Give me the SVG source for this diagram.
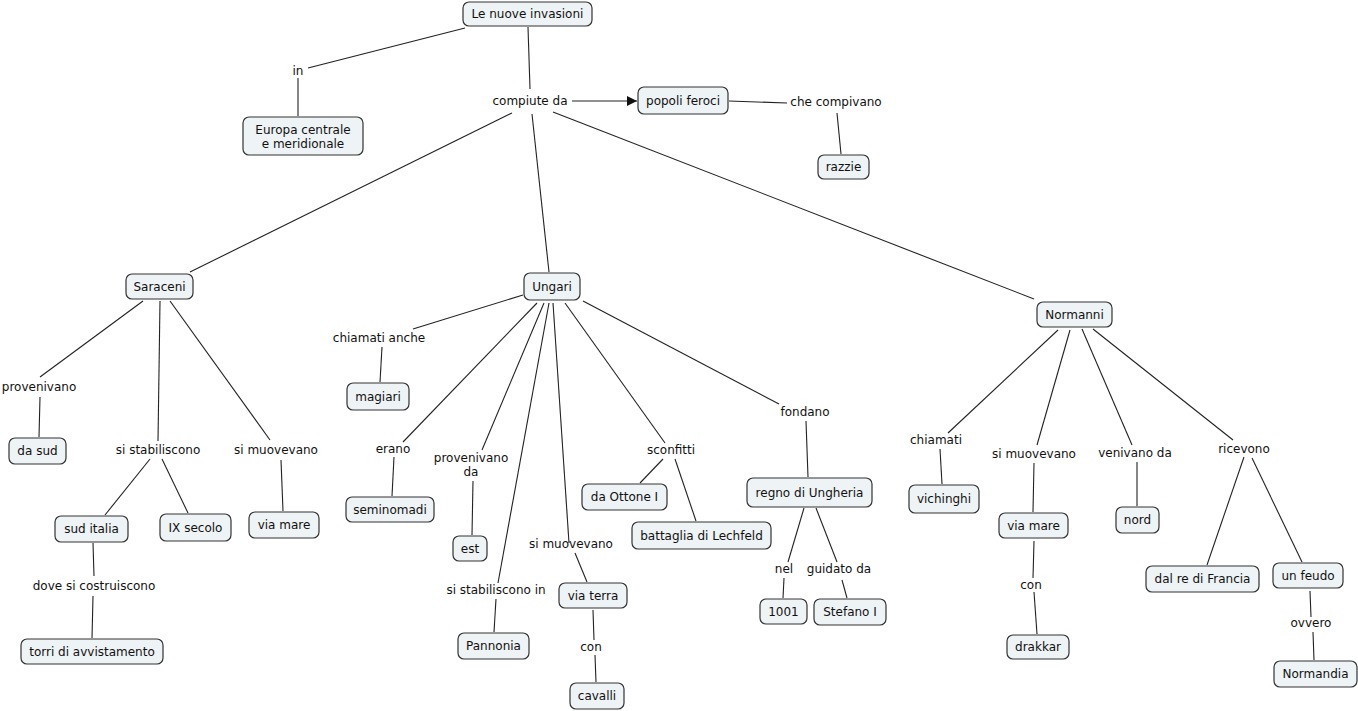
<svg xmlns="http://www.w3.org/2000/svg" width="1358" height="711" viewBox="0 0 1358 711">
<defs>
<style>
.n rect{fill:#eef3f5;stroke:#333;stroke-width:1.2}
text{font-family:"DejaVu Sans","Verdana",sans-serif;font-size:12px;fill:#111;text-anchor:middle}
.c line{stroke:#222;stroke-width:1.1}
</style>
<marker id="ar" viewBox="0 0 10 10" refX="10" refY="5" markerWidth="10" markerHeight="10" markerUnits="userSpaceOnUse" orient="auto"><path d="M0,0L10,5L0,10z" fill="#111"/></marker>
</defs>
<rect width="1358" height="711" fill="#fff"/>
<g class="c" id="connectors">
<line x1="465" y1="28" x2="308" y2="68"/>
<line x1="298" y1="78" x2="298" y2="116"/>
<line x1="528" y1="27" x2="530" y2="89"/>
<line x1="572" y1="101" x2="637" y2="101" marker-end="url(#ar)"/>
<line x1="729" y1="101" x2="787" y2="103"/>
<line x1="837" y1="113" x2="841" y2="154"/>
<line x1="512" y1="113" x2="190" y2="272"/>
<line x1="532" y1="114" x2="549" y2="272"/>
<line x1="553" y1="112" x2="1034" y2="299"/>
<line x1="143" y1="301" x2="40" y2="377"/>
<line x1="40" y1="397" x2="39" y2="437"/>
<line x1="160" y1="301" x2="158" y2="441"/>
<line x1="170" y1="301" x2="270" y2="440"/>
<line x1="281" y1="460" x2="283" y2="511"/>
<line x1="150" y1="459" x2="105" y2="515"/>
<line x1="162" y1="459" x2="188" y2="513"/>
<line x1="93" y1="543" x2="94" y2="576"/>
<line x1="93" y1="596" x2="92" y2="638"/>
<line x1="523" y1="295" x2="413" y2="329"/>
<line x1="382" y1="347" x2="380" y2="382"/>
<line x1="537" y1="303" x2="403" y2="442"/>
<line x1="394" y1="457" x2="392" y2="496"/>
<line x1="544" y1="303" x2="482" y2="450"/>
<line x1="473" y1="481" x2="472" y2="535"/>
<line x1="549" y1="303" x2="498" y2="583"/>
<line x1="496" y1="599" x2="494" y2="632"/>
<line x1="553" y1="303" x2="569" y2="543"/>
<line x1="575" y1="553" x2="587" y2="582"/>
<line x1="593" y1="610" x2="594" y2="640"/>
<line x1="595" y1="655" x2="596" y2="682"/>
<line x1="565" y1="303" x2="665" y2="443"/>
<line x1="663" y1="459" x2="640" y2="483"/>
<line x1="675" y1="459" x2="696" y2="521"/>
<line x1="583" y1="301" x2="779" y2="404"/>
<line x1="806" y1="421" x2="808" y2="477"/>
<line x1="804" y1="508" x2="788" y2="562"/>
<line x1="784" y1="578" x2="783" y2="598"/>
<line x1="816" y1="508" x2="837" y2="562"/>
<line x1="842" y1="580" x2="847" y2="598"/>
<line x1="1058" y1="330" x2="948" y2="433"/>
<line x1="940" y1="449" x2="942" y2="484"/>
<line x1="1070" y1="330" x2="1037" y2="445"/>
<line x1="1034" y1="463" x2="1033" y2="512"/>
<line x1="1034" y1="541" x2="1033" y2="578"/>
<line x1="1034" y1="592" x2="1037" y2="634"/>
<line x1="1082" y1="329" x2="1132" y2="445"/>
<line x1="1137" y1="462" x2="1137" y2="506"/>
<line x1="1093" y1="329" x2="1233" y2="440"/>
<line x1="1244" y1="457" x2="1207" y2="565"/>
<line x1="1252" y1="458" x2="1302" y2="562"/>
<line x1="1310" y1="591" x2="1311" y2="617"/>
<line x1="1313" y1="632" x2="1314" y2="660"/>
</g>
<g id="labels">
<text x="298" y="75">in</text>
<text x="530" y="105">compiute da</text>
<text x="836" y="106">che compivano</text>
<text x="39" y="391">provenivano</text>
<text x="158" y="454">si stabiliscono</text>
<text x="276" y="454">si muovevano</text>
<text x="94" y="590">dove si costruiscono</text>
<text x="379" y="342">chiamati anche</text>
<text x="393" y="453">erano</text>
<text x="471" y="462">provenivano</text>
<text x="471" y="476">da</text>
<text x="496" y="594">si stabiliscono in</text>
<text x="571" y="548">si muovevano</text>
<text x="591" y="651">con</text>
<text x="671" y="454">sconfitti</text>
<text x="805" y="416">fondano</text>
<text x="784" y="573">nel</text>
<text x="839" y="573">guidato da</text>
<text x="936" y="444">chiamati</text>
<text x="1034" y="458">si muovevano</text>
<text x="1135" y="457">venivano da</text>
<text x="1244" y="453">ricevono</text>
<text x="1031" y="589">con</text>
<text x="1311" y="627">ovvero</text>
</g>
<g class="n" id="n1"><rect x="463" y="2" width="129" height="24" rx="6"/><text x="527.5" y="18">Le nuove invasioni</text></g>
<g class="n" id="n2"><rect x="243" y="117" width="120" height="38" rx="6"/><text x="303" y="134">Europa centrale</text><text x="303" y="148">e meridionale</text></g>
<g class="n" id="n3"><rect x="638" y="87" width="90" height="27" rx="6"/><text x="683" y="104.5">popoli feroci</text></g>
<g class="n" id="n4"><rect x="818" y="155" width="51" height="24" rx="6"/><text x="843.5" y="171">razzie</text></g>
<g class="n" id="n5"><rect x="126" y="274" width="67" height="25" rx="6"/><text x="159.5" y="290.5">Saraceni</text></g>
<g class="n" id="n6"><rect x="524" y="273" width="56" height="27" rx="6"/><text x="552" y="290.5">Ungari</text></g>
<g class="n" id="n7"><rect x="1037" y="302" width="75" height="25" rx="6"/><text x="1074.5" y="318.5">Normanni</text></g>
<g class="n" id="n8"><rect x="9" y="438" width="57" height="26" rx="6"/><text x="37.5" y="455">da sud</text></g>
<g class="n" id="n9"><rect x="55" y="516" width="73" height="26" rx="6"/><text x="91.5" y="533">sud italia</text></g>
<g class="n" id="n10"><rect x="160" y="514" width="71" height="27" rx="6"/><text x="195.5" y="531.5">IX secolo</text></g>
<g class="n" id="n11"><rect x="249" y="512" width="70" height="26" rx="6"/><text x="284" y="529">via mare</text></g>
<g class="n" id="n12"><rect x="21" y="639" width="142" height="25" rx="6"/><text x="92" y="655.5">torri di avvistamento</text></g>
<g class="n" id="n13"><rect x="347" y="383" width="62" height="27" rx="6"/><text x="378" y="400.5">magiari</text></g>
<g class="n" id="n14"><rect x="346" y="497" width="88" height="25" rx="6"/><text x="390" y="513.5">seminomadi</text></g>
<g class="n" id="n15"><rect x="453" y="536" width="34" height="25" rx="6"/><text x="470" y="552.5">est</text></g>
<g class="n" id="n16"><rect x="458" y="633" width="71" height="26" rx="6"/><text x="493.5" y="650">Pannonia</text></g>
<g class="n" id="n17"><rect x="559" y="583" width="68" height="25" rx="6"/><text x="593" y="599.5">via terra</text></g>
<g class="n" id="n18"><rect x="570" y="683" width="54" height="26" rx="6"/><text x="597" y="700">cavalli</text></g>
<g class="n" id="n19"><rect x="582" y="484" width="85" height="26" rx="6"/><text x="624.5" y="501">da Ottone I</text></g>
<g class="n" id="n20"><rect x="632" y="522" width="139" height="27" rx="6"/><text x="701.5" y="539.5">battaglia di Lechfeld</text></g>
<g class="n" id="n21"><rect x="747" y="478" width="125" height="29" rx="6"/><text x="809.5" y="496.5">regno di Ungheria</text></g>
<g class="n" id="n22"><rect x="760" y="599" width="47" height="25" rx="6"/><text x="783.5" y="615.5">1001</text></g>
<g class="n" id="n23"><rect x="814" y="599" width="72" height="26" rx="6"/><text x="850" y="616">Stefano I</text></g>
<g class="n" id="n24"><rect x="909" y="485" width="70" height="28" rx="6"/><text x="944" y="503">vichinghi</text></g>
<g class="n" id="n25"><rect x="999" y="513" width="69" height="25" rx="6"/><text x="1033.5" y="529.5">via mare</text></g>
<g class="n" id="n26"><rect x="1007" y="635" width="62" height="24" rx="6"/><text x="1038" y="651">drakkar</text></g>
<g class="n" id="n27"><rect x="1116" y="507" width="43" height="26" rx="6"/><text x="1137.5" y="524">nord</text></g>
<g class="n" id="n28"><rect x="1146" y="566" width="113" height="26" rx="6"/><text x="1202.5" y="583">dal re di Francia</text></g>
<g class="n" id="n29"><rect x="1273" y="563" width="70" height="25" rx="6"/><text x="1308" y="579.5">un feudo</text></g>
<g class="n" id="n30"><rect x="1274" y="661" width="83" height="26" rx="6"/><text x="1315.5" y="678">Normandia</text></g>
</svg>
